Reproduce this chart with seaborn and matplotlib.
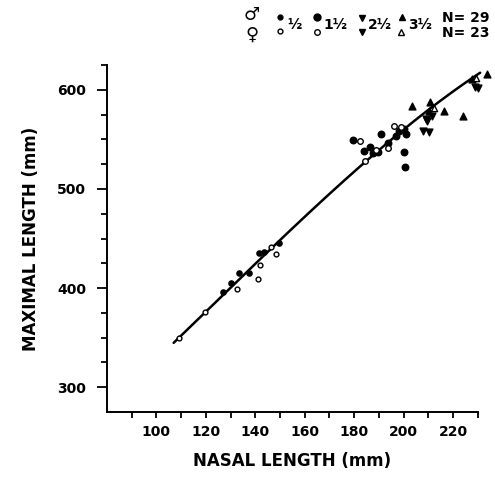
import numpy as np
import matplotlib
matplotlib.use("Agg")
import matplotlib.pyplot as plt
import seaborn as sns

sns.set_style("ticks")
plt.rcParams['font.family'] = ['DejaVu Sans']
plt.rcParams.update({'text.color': 'black', 'axes.labelcolor': 'black',
                     'xtick.color': 'black', 'ytick.color': 'black',
                     'axes.edgecolor': 'black'})

# nasal length (x) vs maximal length (y), mm
# males
m_half_x = [126.9, 130.3, 133.3, 137.3, 141.6, 143.6, 149.6]
m_half_y = [396.3, 404.8, 415.4, 414.8, 434.9, 436.5, 445.0]
m_one_x = [179.6, 184.0, 186.3, 187.6, 189.6, 190.9, 193.6, 197.0, 198.3, 200.3, 201.0, 200.3, 200.7]
m_one_y = [549.4, 538.0, 542.0, 536.4, 537.7, 555.3, 546.5, 553.8, 558.8, 560.6, 555.5, 537.0, 522.0]
m_two_x = [208.0, 209.6, 211.5, 230.0]
m_two_y = [558.5, 568.5, 574.0, 602.0]
m_three_x = [203.6, 210.7, 210.3, 216.3, 224.0, 227.6, 233.6]
m_three_y = [583.6, 587.7, 578.6, 578.6, 573.6, 610.4, 616.0]
# females
f_half_x = [109.0, 119.6, 132.5, 141.2, 141.9, 146.3, 148.3]
f_half_y = [350.0, 376.0, 399.0, 409.0, 423.0, 441.0, 434.2]
f_one_x = [182.3, 184.6, 189.0, 193.6, 196.3, 199.0]
f_one_y = [548.0, 528.6, 539.0, 541.4, 563.8, 562.0]
f_two_x = [209.0, 210.3, 229.0]
f_two_y = [570.5, 557.5, 603.0]
f_three_x = [212.5, 229.5]
f_three_y = [582.0, 612.0]

# points
curve_x = [107, 120, 140, 160, 180, 200, 220, 231]
curve_y = [345, 376, 424, 472, 518, 560, 597, 618]

fig = plt.figure(figsize=(4.95, 4.78), dpi=100)
ax = fig.add_axes([0.216, 0.138, 0.749, 0.726])

coef = np.polyfit(curve_x, curve_y, 3)
xs = np.linspace(curve_x[0], curve_x[-1], 200)
sns.lineplot(x=xs, y=np.polyval(coef, xs), color='black', lw=1.8, ax=ax, clip_on=False)

groups = [
    (m_half_x, m_half_y, 'o', 14, 'black'),
    (f_half_x, f_half_y, 'o', 12, 'white'),
    (m_one_x, m_one_y, 'o', 22, 'black'),
    (f_one_x, f_one_y, 'o', 16, 'white'),
    (m_two_x, m_two_y, 'v', 24, 'black'),
    (f_two_x, f_two_y, 'v', 24, 'black'),
    (m_three_x, m_three_y, '^', 24, 'black'),
    (f_three_x, f_three_y, '^', 20, 'white'),
]
for gx, gy, mk, sz, fc in groups:
    sns.scatterplot(x=gx, y=gy, marker=mk, s=sz, color=fc, edgecolor='black',
                    linewidth=1.0, ax=ax, clip_on=False, zorder=3)

ax.set_xlim(80, 230)
ax.set_ylim(275, 625)
ax.set_xticks(np.arange(100, 221, 20))
ax.set_xticks(np.arange(90, 231, 10), minor=True)
ax.set_yticks([300, 400, 500, 600])
ax.set_yticks(np.arange(300, 626, 25), minor=True)
ax.tick_params(axis='both', which='both', direction='out', width=1.3, color='black',
               labelsize=10)
ax.tick_params(axis='y', which='major', length=7, pad=8)
ax.tick_params(axis='y', which='minor', length=4)
ax.tick_params(axis='x', which='both', length=4, pad=5)
for lab in ax.get_xticklabels() + ax.get_yticklabels():
    lab.set_fontweight('bold')
sns.despine(ax=ax)
for sp in ['left', 'bottom']:
    ax.spines[sp].set_linewidth(1.4)

ax.set_xlabel('NASAL LENGTH (mm)', fontsize=12, fontweight='bold', labelpad=10)
ax.set_ylabel('MAXIMAL LENGTH (mm)', fontsize=12, fontweight='bold', labelpad=12)

# legend drawn in figure coordinates
W, H = 495.0, 478.0
def fx(px):
    return px / W
def fy(py):
    return 1 - py / H

fig.text(fx(252), fy(15), '\u2642', fontsize=13, ha='center', va='center', fontweight='bold')
fig.text(fx(252), fy(35), '\u2640', fontsize=13, ha='center', va='center', fontweight='bold')
leg_marks = [
    (280, 17, 'o', 3.5, 'black'), (280, 31, 'o', 3.5, 'white'),
    (317, 17, 'o', 5, 'black'), (317, 32, 'o', 4, 'white'),
    (362, 18, 'v', 5, 'black'), (362, 32, 'v', 5, 'black'),
    (402, 17, '^', 5, 'black'), (401, 32, '^', 4.5, 'white'),
]
for px, py, mk, ms, fc in leg_marks:
    fig.add_artist(plt.Line2D([fx(px)], [fy(py)], marker=mk, ms=ms, mfc=fc, mec='black',
                              mew=1.0, ls='none', transform=fig.transFigure))
for px, txt in [(287, '\u00bd'), (323, '1\u00bd'), (368, '2\u00bd'), (408, '3\u00bd')]:
    fig.text(fx(px), fy(25), txt, fontsize=10, ha='left', va='center', fontweight='bold')
fig.text(fx(490), fy(18), 'N= 29', fontsize=10, ha='right', va='center', fontweight='bold')
fig.text(fx(490), fy(33), 'N= 23', fontsize=10, ha='right', va='center', fontweight='bold')

fig.savefig('out.png', dpi=100)
